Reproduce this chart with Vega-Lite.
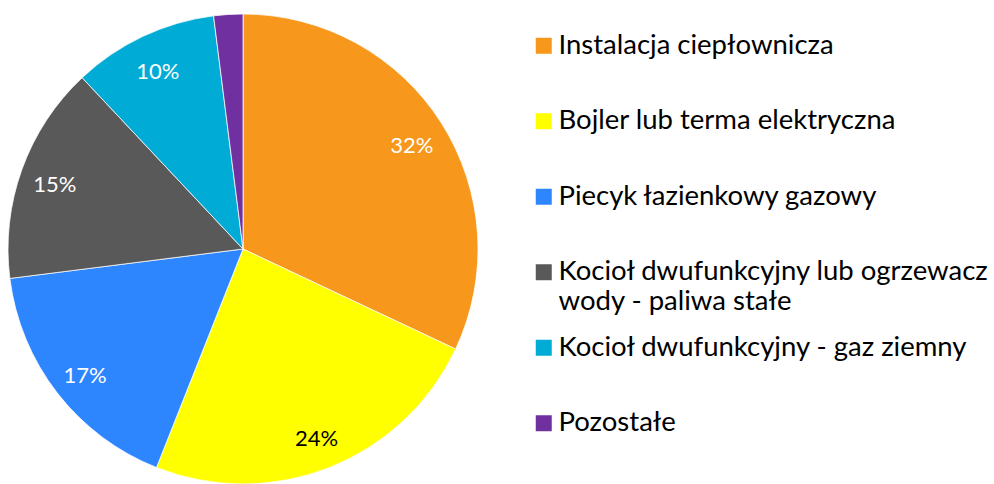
{
  "$schema": "https://vega.github.io/schema/vega-lite/v6.json",
  "width": 486,
  "height": 470,
  "autosize": {"type": "none"},
  "padding": {"left": 0, "top": 14, "right": 508, "bottom": 0},
  "background": "white",
  "data": {
    "values": [
      {"kategoria": "Instalacja ciepłownicza", "udzial": 0.32, "kolejnosc": 1},
      {"kategoria": "Bojler lub terma elektryczna", "udzial": 0.24, "kolejnosc": 2},
      {"kategoria": "Piecyk łazienkowy gazowy", "udzial": 0.17, "kolejnosc": 3},
      {"kategoria": "Kocioł dwufunkcyjny lub ogrzewacz wody - paliwa stałe", "udzial": 0.15, "kolejnosc": 4},
      {"kategoria": "Kocioł dwufunkcyjny - gaz ziemny", "udzial": 0.10, "kolejnosc": 5},
      {"kategoria": "Pozostałe", "udzial": 0.02, "kolejnosc": 6}
    ]
  },
  "encoding": {
    "theta": {"field": "udzial", "type": "quantitative", "stack": true},
    "order": {"field": "kolejnosc", "type": "quantitative", "sort": "ascending"}
  },
  "layer": [
    {
      "mark": {"type": "arc", "stroke": "white", "strokeWidth": 0.75},
      "encoding": {
        "color": {
          "field": "kategoria",
          "type": "nominal",
          "scale": {
            "domain": ["Instalacja ciepłownicza", "Bojler lub terma elektryczna", "Piecyk łazienkowy gazowy", "Kocioł dwufunkcyjny lub ogrzewacz wody - paliwa stałe", "Kocioł dwufunkcyjny - gaz ziemny", "Pozostałe"],
            "range": ["#F7981D", "#FFFF00", "#2E86FF", "#595959", "#00ACD6", "#7030A0"]
          },
          "legend": {
            "title": null,
            "orient": "none",
            "legendX": 530,
            "legendY": 26,
            "padding": 0,
            "symbolType": "M-1,-2L1,-2L1,0L-1,0Z",
            "symbolSize": 256,
            "symbolStrokeWidth": 0,
            "symbolOpacity": 1,
            "labelFont": "Lato",
            "labelFontSize": 27.5,
            "labelColor": "#000000",
            "labelBaseline": "alphabetic",
            "labelOffset": 1,
            "labelLimit": 600,
            "rowPadding": 17.5,
            "gridAlign": "all",
            "labelExpr": "datum.label == 'Kocioł dwufunkcyjny lub ogrzewacz wody - paliwa stałe' ? ['Kocioł dwufunkcyjny lub ogrzewacz', 'wody - paliwa stałe'] : datum.label"
          }
        }
      }
    },
    {
      "transform": [{"filter": "datum.udzial >= 0.05"}],
      "mark": {"type": "text", "radius": 200, "font": "Lato", "fontSize": 22, "dy": 4},
      "encoding": {
        "text": {"field": "udzial", "type": "quantitative", "format": ".0%"},
        "color": {
          "condition": {"test": "datum.kategoria == 'Bojler lub terma elektryczna'", "value": "#000000"},
          "value": "#FFFFFF"
        }
      }
    }
  ]
}
